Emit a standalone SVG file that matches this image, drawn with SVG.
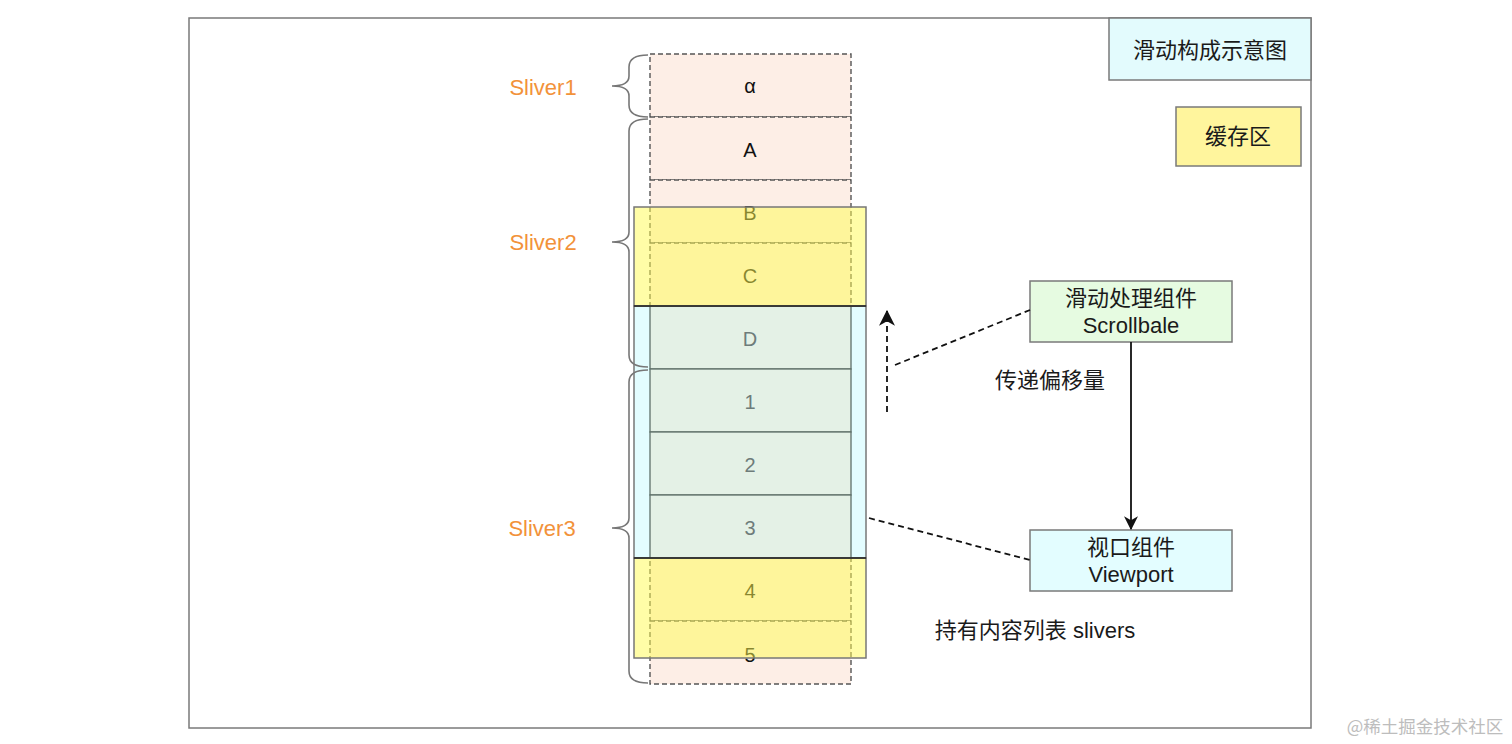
<svg xmlns="http://www.w3.org/2000/svg" width="1512" height="744" viewBox="0 0 1512 744">
<defs>
<style>
.t{font-family:"Liberation Sans","Noto Sans CJK SC",Arial,sans-serif;font-size:22px;fill:#1a1a1a;text-anchor:middle}
.c{font-family:"Liberation Sans","Noto Sans CJK SC",Arial,sans-serif;font-size:20px;fill:#111;text-anchor:middle}
.vc{font-family:"Liberation Sans","Noto Sans CJK SC",Arial,sans-serif;font-size:20px;fill:#6e7c7a;text-anchor:middle}
.sl{font-family:"Liberation Sans",Arial,sans-serif;font-size:22px;fill:#f2923a;text-anchor:middle}
.cell{fill:#fdeee6;stroke:#555;stroke-width:1.4;stroke-dasharray:5 3}
.buf{fill:#fffc50;fill-opacity:0.5;stroke:#777;stroke-width:1.5}
.vcell{fill:#e4f1e6;stroke:#5f716a;stroke-width:1.3}
.brace{fill:none;stroke:#777;stroke-width:1.6}
.box{stroke:#7a7a7a;stroke-width:1.5}
.dash{fill:none;stroke:#111;stroke-width:1.8;stroke-dasharray:6 4}
</style>
<marker id="ah" viewBox="0 0 14 14" refX="13" refY="7" markerWidth="16" markerHeight="16" markerUnits="userSpaceOnUse" orient="auto">
<path d="M0,0 L14,7 L0,14 L4,7 z" fill="#111"/>
</marker>
<marker id="ah2" viewBox="0 0 12 12" refX="11" refY="6" markerWidth="14" markerHeight="14" markerUnits="userSpaceOnUse" orient="auto">
<path d="M0,0 L12,6 L0,12 L3.5,6 z" fill="#111"/>
</marker>
</defs>
<rect width="1512" height="744" fill="#fff"/>
<g id="frame">
<rect x="189" y="18" width="1122" height="710" fill="none" stroke="#7a7a7a" stroke-width="1.5"/>
</g>
<g id="title">
<rect class="box" x="1109" y="18" width="202" height="62" fill="#e3fbfd"/>
<text class="t" x="1210" y="58">滑动构成示意图</text>
</g>
<g id="legend-cache">
<rect class="box" x="1176" y="107" width="125" height="59" fill="#fff59d"/>
<text class="t" x="1238" y="144">缓存区</text>
</g>
<g id="cells">
<rect class="cell" x="650" y="54" width="201" height="63"/>
<rect class="cell" x="650" y="117" width="201" height="63"/>
<rect class="cell" x="650" y="180" width="201" height="63"/>
<rect class="cell" x="650" y="243" width="201" height="63"/>
<rect class="cell" x="650" y="558" width="201" height="63"/>
<rect class="cell" x="650" y="621" width="201" height="63"/>
<text class="c" x="750" y="93">α</text>
<text class="c" x="750" y="157">A</text>
<text class="c" x="750" y="220">B</text>
<text class="c" x="750" y="283">C</text>
<text class="c" x="750" y="598">4</text>
<text class="c" x="750" y="662">5</text>
</g>
<g id="viewport-area">
<rect x="634" y="306" width="232" height="252" fill="#e3fdff" stroke="#777" stroke-width="1.5"/>
<rect class="vcell" x="650" y="306" width="201" height="63"/>
<rect class="vcell" x="650" y="369" width="201" height="63"/>
<rect class="vcell" x="650" y="432" width="201" height="63"/>
<rect class="vcell" x="650" y="495" width="201" height="63"/>
<text class="vc" x="750" y="346">D</text>
<text class="vc" x="750" y="409">1</text>
<text class="vc" x="750" y="472">2</text>
<text class="vc" x="750" y="535">3</text>
</g>
<g id="cache-top">
<rect class="buf" x="634" y="207" width="232" height="99"/>
</g>
<g id="cache-bottom">
<rect class="buf" x="634" y="558" width="232" height="100"/>
</g>
<line x1="634" y1="306" x2="866" y2="306" stroke="#222" stroke-width="1.5"/>
<line x1="634" y1="558" x2="866" y2="558" stroke="#222" stroke-width="1.5"/>
<g id="braces">
<path class="brace" d="M648,55 Q629,55 629,67 L629,76 Q629,86 612,86 Q629,86 629,96 L629,105 Q629,117 648,117"/>
<path class="brace" d="M648,119 Q629,119 629,131 L629,232 Q629,242 612,242 Q629,242 629,252 L629,355 Q629,367 648,367"/>
<path class="brace" d="M648,370 Q629,370 629,382 L629,518 Q629,528 612,528 Q629,528 629,538 L629,671 Q629,683 648,683"/>
<text class="sl" x="543" y="95">Sliver1</text>
<text class="sl" x="543" y="250">Sliver2</text>
<text class="sl" x="542" y="536">Sliver3</text>
</g>
<g id="scrollable">
<rect class="box" x="1030" y="281" width="202" height="61" fill="#e6fbe1"/>
<text class="t" x="1131" y="306">滑动处理组件</text>
<text class="t" x="1131" y="333">Scrollbale</text>
</g>
<g id="viewport">
<rect class="box" x="1030" y="530" width="202" height="61" fill="#e3fdff"/>
<text class="t" x="1131" y="555">视口组件</text>
<text class="t" x="1131" y="582">Viewport</text>
</g>
<g id="connectors">
<line class="dash" x1="887" y1="412" x2="887" y2="311" marker-end="url(#ah)"/>
<line class="dash" x1="895" y1="365" x2="1030" y2="310"/>
<line class="dash" x1="869" y1="518" x2="1030" y2="560"/>
<line x1="1131" y1="342" x2="1131" y2="529" stroke="#111" stroke-width="1.8" marker-end="url(#ah2)"/>
<text class="t" x="1050" y="388">传递偏移量</text>
<text class="t" x="1035" y="638">持有内容列表 slivers</text>
</g>
<text x="1425" y="733" font-family="'Noto Sans CJK SC','Liberation Sans',sans-serif" font-size="17.5" fill="#bdbdbd" text-anchor="middle">@稀土掘金技术社区</text>
</svg>
